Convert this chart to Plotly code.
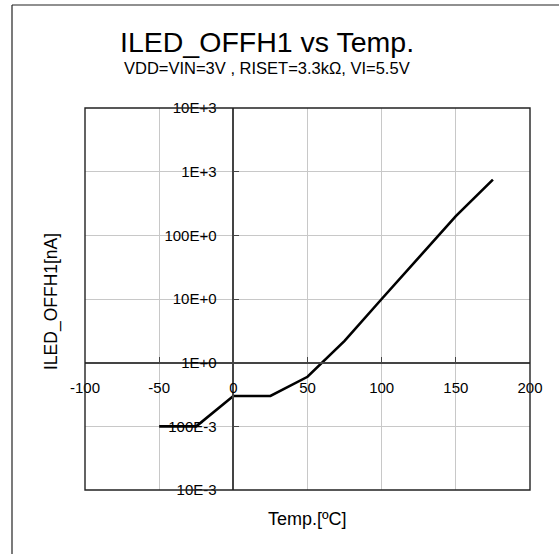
import plotly.graph_objects as go

temps = [-50, -25, 0, 25, 50, 75, 100, 125, 150, 175]
iled = [0.1, 0.1, 0.3, 0.3, 0.6, 2.2, 10, 45, 200, 750]

x_ticks = [-100, -50, 0, 50, 100, 150, 200]
x_ticktext = ["-100", "-50", "0", "50", "100", "150", "200"]
y_ticks = [0.01, 0.1, 1, 10, 100, 1000, 10000]
y_ticktext = ["10E-3", "100E-3", "1E+0", "10E+0", "100E+0", "1E+3", "10E+3"]

W, H = 575, 570   # slightly larger than the window; the overflow is hidden
L, T = 85, 108
PR, PB = 530, 490  # plot right / bottom in page pixels
R, B = W - PR, H - PB
PW, PH = PR - L, PB - T

def px(x):
    return (x - L) / PW

def py(y):
    return (PB - y) / PH

FONT = "Liberation Sans, Arial, sans-serif"

fig = go.Figure()
fig.add_trace(go.Scatter(x=temps, y=iled, mode="lines",
                         line=dict(color="black", width=2.6), showlegend=False))

fig.update_layout(
    width=W, height=H,
    margin=dict(l=L, r=R, t=T, b=B),
    paper_bgcolor="white", plot_bgcolor="white",
    font=dict(family=FONT, color="black", size=15),
    xaxis=dict(
        range=[-100, 200], tickvals=x_ticks, ticktext=x_ticktext,
        anchor="free", position=1/3, side="bottom",
        showline=True, linecolor="#444", linewidth=1.5,
        ticks="inside", ticklen=5, tickcolor="#444", tickwidth=1,
        showgrid=True, gridcolor="#c8c8c8", gridwidth=1,
        zeroline=False, ticklabelstandoff=12,
        tickfont=dict(size=15),
    ),
    yaxis=dict(
        type="log", range=[-2, 4], tickvals=y_ticks, ticktext=y_ticktext,
        anchor="free", position=1/3, side="left",
        showline=True, linecolor="#444", linewidth=1.5,
        ticks="inside", ticklen=5, tickcolor="#444", tickwidth=1,
        showgrid=True, gridcolor="#c8c8c8", gridwidth=1,
        zeroline=False, ticklabelstandoff=13,
        tickfont=dict(size=15),
    ),
    shapes=[
        dict(type="rect", xref="paper", yref="paper", x0=0, x1=1, y0=0, y1=1,
             line=dict(color="#222", width=1.4), layer="above"),
        dict(type="line", xref="paper", yref="paper",
             x0=px(12), x1=px(12), y0=py(H + 5), y1=py(5),
             line=dict(color="#222", width=1.2), layer="above"),
        dict(type="line", xref="paper", yref="paper",
             x0=px(12), x1=px(W + 5), y0=py(5), y1=py(5),
             line=dict(color="#222", width=1.2), layer="above"),
    ],
    annotations=[
        dict(text="ILED_OFFH1 vs Temp.", xref="paper", yref="paper",
             x=px(267), y=py(42), xanchor="center", yanchor="middle",
             showarrow=False, font=dict(size=28.5, family=FONT)),
        dict(text="VDD=VIN=3V , RISET=3.3kΩ, VI=5.5V", xref="paper", yref="paper",
             x=px(267), y=py(68), xanchor="center", yanchor="middle",
             showarrow=False, font=dict(size=16.5, family=FONT)),
        dict(text="ILED_OFFH1[nA]", xref="paper", yref="paper",
             x=px(51), y=py(302), xanchor="center", yanchor="middle", textangle=-90,
             showarrow=False, font=dict(size=17.5, family=FONT)),
        dict(text="Temp.[ºC]", xref="paper", yref="paper",
             x=px(307), y=py(519), xanchor="center", yanchor="middle",
             showarrow=False, font=dict(size=18, family=FONT)),
    ],
)

fig.write_html("out.html", config={"displayModeBar": False},
               post_script="document.body.style.margin='0';document.body.style.overflow='hidden';")
